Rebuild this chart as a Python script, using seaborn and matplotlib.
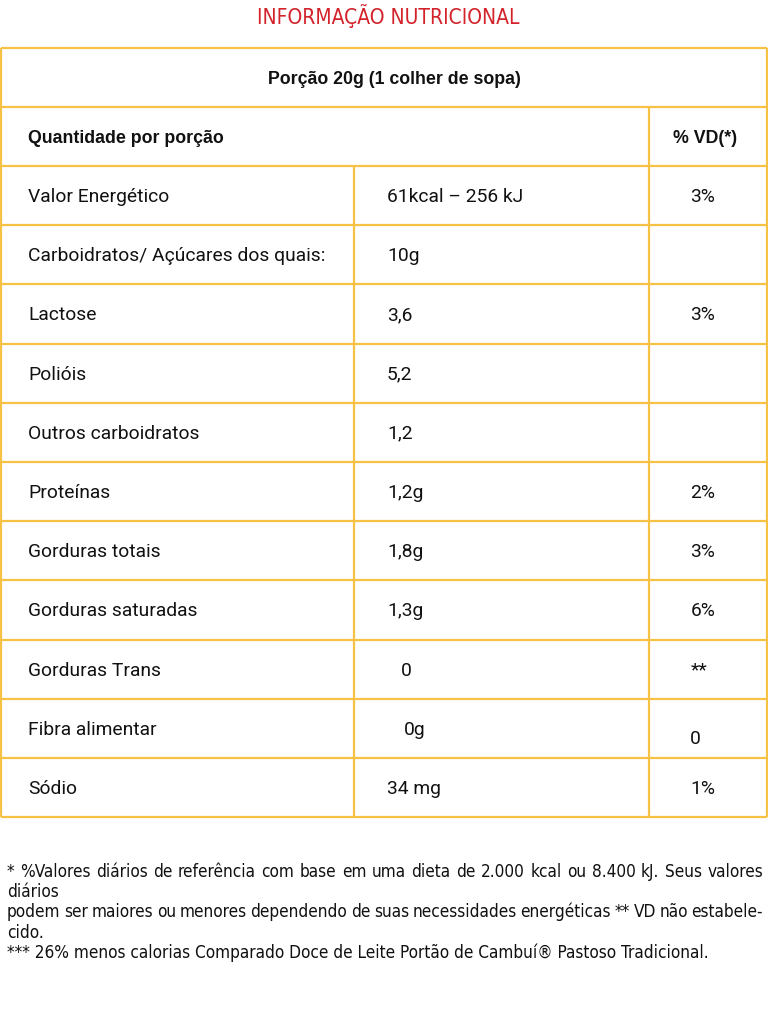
import matplotlib
matplotlib.use("Agg")
import matplotlib.pyplot as plt
import seaborn as sns

sns.set_theme(style="white")
plt.rcParams['font.family'] = ['Roboto', 'DejaVu Sans']

# ---- data ----
title = "INFORMAÇÃO NUTRICIONAL"
portion = "Porção 20g (1 colher de sopa)"
header_left = "Quantidade por porção"
header_right = "% VD(*)"
nutrients = ["Valor Energético", "Carboidratos/ Açúcares dos quais:", "Lactose", "Polióis",
             "Outros carboidratos", "Proteínas", "Gorduras totais", "Gorduras saturadas",
             "Gorduras Trans", "Fibra alimentar", "Sódio"]
amounts = ["61kcal – 256 kJ", "10g", "3,6", "5,2", "1,2", "1,2g", "1,8g", "1,3g", "0", "0g", "34 mg"]
vd = ["3%", "", "3%", "", "", "2%", "3%", "6%", "**", "0", "1%"]
footer_lines = [
    "* %Valores diários de referência com base em uma dieta de 2.000 kcal ou 8.400 kJ. Seus valores",
    "diários",
    "podem ser maiores ou menores dependendo de suas necessidades energéticas ** VD não estabele-",
    "cido.",
    "*** 26% menos calorias Comparado Doce de Leite Portão de Cambuí® Pastoso Tradicional.",
]
footer_justify = [True, False, True, False, False]

# ---- layout ----
W, H = 768, 1034
fig = plt.figure(figsize=(W / 100, H / 100), dpi=100)
ax = fig.add_axes([0, 0, 1, 1])
ax.set_xlim(0, W)
ax.set_ylim(H, 0)
ax.axis("off")

LINE = "#F7C146"
RED = "#D3222A"
TXT = "#111111"

top, row_h = 47.5, 59.2
n_rows = 2 + len(nutrients)
ys = [top + i * row_h for i in range(n_rows + 1)]
x0, x1, x2, x3 = 1, 353.5, 648.5, 766.5

ax.hlines(ys, x0, x3, color=LINE, lw=1.6)
ax.vlines([x0, x3], ys[0], ys[-1], color=LINE, lw=1.6)
ax.vlines([x2], ys[1], ys[-1], color=LINE, lw=1.6)
ax.vlines([x1], ys[2], ys[-1], color=LINE, lw=1.6)

def base(i):
    return (ys[i] + ys[i + 1]) / 2 + 6.5

cond = dict(family=["DejaVu Sans", "Roboto"], fontstretch="condensed")
ax.text(388, 23.5, title, ha="center", va="baseline", fontsize=15, color=RED, **cond)

bold = ["Liberation Sans", "DejaVu Sans"]
ax.text(394, base(0), portion, ha="center", va="baseline", fontsize=12.8,
        fontweight="bold", family=bold, color=TXT)
ax.text(28, base(1), header_left, ha="left", va="baseline", fontsize=12.8,
        fontweight="bold", family=bold, color=TXT)
ax.text(705, base(1), header_right, ha="center", va="baseline", fontsize=12.8,
        fontweight="bold", family=bold, color=TXT)

fs = 13.9
amount_x = {8: (406, "center"), 9: (415, "center")}
vd_pos = {8: (699, 0), 9: (695, 9)}
for k, (n, a, v) in enumerate(zip(nutrients, amounts, vd)):
    r = k + 2
    b = base(r)
    ax.text(28, b, n, ha="left", va="baseline", fontsize=fs, color=TXT)
    ax_, al = amount_x.get(k, (387, "left"))
    ax.text(ax_, b, a, ha=al, va="baseline", fontsize=fs, color=TXT)
    vx, dy = vd_pos.get(k, (703, 0))
    if v:
        ax.text(vx, b + dy, v, ha="center", va="baseline", fontsize=fs, color=TXT)

# footer with justification
ffs = 12.3
fig.canvas.draw()
renderer = fig.canvas.get_renderer()
fy0, fdy = 877, 20.2
left, right = 7, 763
for i, (line, just) in enumerate(zip(footer_lines, footer_justify)):
    y = fy0 + i * fdy
    if not just:
        ax.text(left, y, line, ha="left", va="baseline", fontsize=ffs, color=TXT, **cond)
        continue
    words = line.split(" ")
    widths = []
    for w in words:
        t = ax.text(0, 0, w, fontsize=ffs, **cond)
        bb = t.get_window_extent(renderer)
        widths.append(bb.width)
        t.remove()
    gap = (right - left - sum(widths)) / (len(words) - 1)
    x = left
    for w, wd in zip(words, widths):
        ax.text(x, y, w, ha="left", va="baseline", fontsize=ffs, color=TXT, **cond)
        x += wd + gap

fig.savefig("out.png", dpi=100)
